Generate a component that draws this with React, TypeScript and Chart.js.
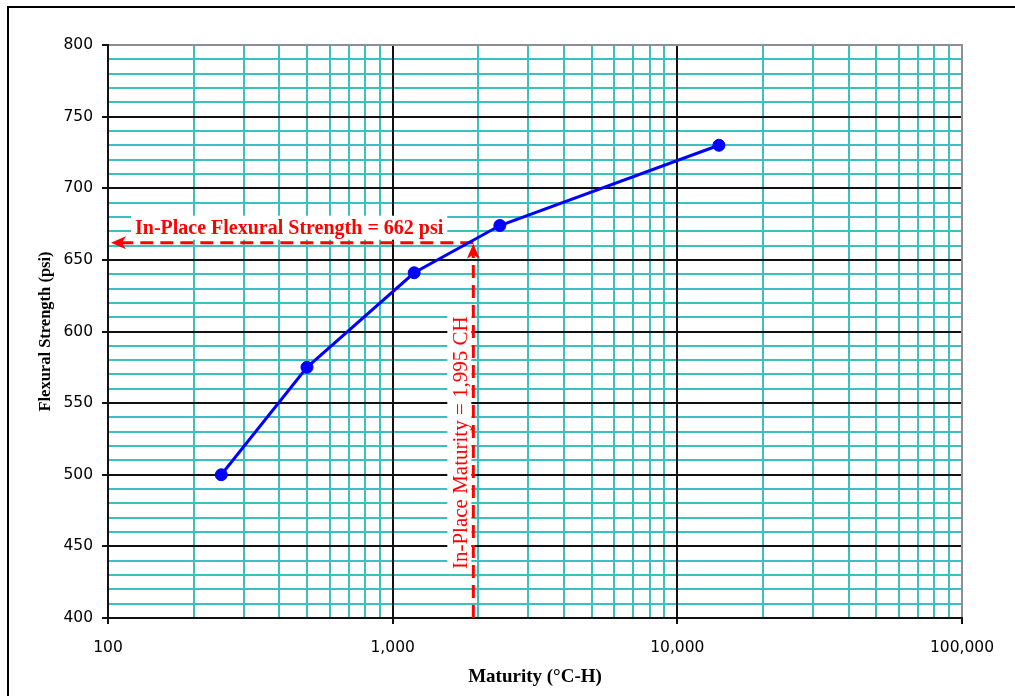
import React, { useEffect, useRef } from 'react';
import { Chart, registerables } from 'chart.js';

Chart.register(...registerables);

// ---- data ----
const maturity = [250, 500, 1190, 2380, 14000];
const strength = [500, 575, 641, 674, 730];

const xDecades = [100, 1000, 10000, 100000];
const xMultipliers = [1, 2, 3, 4, 5, 6, 7, 8, 9];
const xMin = 100;
const xMax = 100000;

const yMin = 400;
const yMax = 800;
const yMinorStep = 10;
const yMajorStep = 50;

const markStrength = 662;
const markMaturity = 1920;
const strengthLabel = 'In-Place Flexural Strength = 662 psi';
const maturityLabel = 'In-Place Maturity = 1,995 CH';
const xTitle = 'Maturity (°C-H)';
const yTitle = 'Flexural Strength (psi)';

// ---- styles ----
const CYAN = '#3bc0c0';
const BLACK = '#111111';
const GRAY = '#8f8f8f';
const RED = '#ff0000';
const BLUE = '#0000ff';
const TICK_FONT = { family: 'DejaVu Sans', size: 15.5 };
const SERIF = 'Liberation Serif';

const xTickValues: number[] = [];
xDecades.forEach((d, i) => {
  if (i === xDecades.length - 1) xTickValues.push(d);
  else xMultipliers.forEach((m) => xTickValues.push(d * m));
});

const align = (p: number, w: number) => Math.round(p - w / 2) + w / 2;

const overlayPlugin = {
  id: 'overlay',
  beforeDatasetsDraw(chart: any) {
    const { ctx, chartArea: ca } = chart;
    const xs = chart.scales.x;
    const ys = chart.scales.y;
    ctx.save();
    // major grid lines on top of minor ones
    ctx.lineWidth = 2;
    ctx.strokeStyle = BLACK;
    xDecades.forEach((v) => {
      if (v === xMin || v === xMax) return;
      const px = align(xs.getPixelForValue(v), 2);
      ctx.beginPath();
      ctx.moveTo(px, ca.top);
      ctx.lineTo(px, ca.bottom);
      ctx.stroke();
    });
    for (let v = yMin + yMajorStep; v < yMax; v += yMajorStep) {
      const py = align(ys.getPixelForValue(v), 2);
      ctx.beginPath();
      ctx.moveTo(ca.left, py);
      ctx.lineTo(ca.right, py);
      ctx.stroke();
    }
    // plot frame
    const L = align(ca.left, 2), R = align(ca.right, 2), T = align(ca.top, 2), B = align(ca.bottom, 2);
    ctx.strokeStyle = GRAY;
    ctx.beginPath();
    ctx.moveTo(L, T);
    ctx.lineTo(R, T);
    ctx.lineTo(R, B);
    ctx.stroke();
    ctx.strokeStyle = BLACK;
    ctx.beginPath();
    ctx.moveTo(L, T - 1);
    ctx.lineTo(L, B);
    ctx.lineTo(R + 1, B);
    ctx.stroke();

    // annotation lines
    const yPix = ys.getPixelForValue(markStrength);
    const xPix = xs.getPixelForValue(markMaturity);
    ctx.strokeStyle = RED;
    ctx.lineWidth = 3;
    ctx.setLineDash([13, 7]);
    ctx.beginPath();
    ctx.moveTo(xPix, yPix);
    ctx.lineTo(ca.left + 12, yPix);
    ctx.stroke();
    ctx.beginPath();
    ctx.moveTo(xPix, ca.bottom);
    ctx.lineTo(xPix, yPix + 12);
    ctx.stroke();
    ctx.setLineDash([]);
    ctx.fillStyle = RED;
    // left arrowhead
    const tx = ca.left + 3;
    ctx.beginPath();
    ctx.moveTo(tx, yPix);
    ctx.lineTo(tx + 15, yPix - 6.5);
    ctx.lineTo(tx + 11, yPix);
    ctx.lineTo(tx + 15, yPix + 6.5);
    ctx.closePath();
    ctx.fill();
    // up arrowhead
    const ty = yPix + 1;
    ctx.beginPath();
    ctx.moveTo(xPix, ty);
    ctx.lineTo(xPix - 6.5, ty + 15);
    ctx.lineTo(xPix, ty + 11);
    ctx.lineTo(xPix + 6.5, ty + 15);
    ctx.closePath();
    ctx.fill();

    // horizontal label
    ctx.font = `bold 20px "${SERIF}"`;
    const w1 = ctx.measureText(strengthLabel).width;
    const lx = ca.left + 27;
    const by = yPix - 8.5;
    ctx.fillStyle = '#ffffff';
    ctx.fillRect(lx - 4, by - 18.5, w1 + 8, 24);
    ctx.fillStyle = RED;
    ctx.textAlign = 'left';
    ctx.textBaseline = 'alphabetic';
    ctx.fillText(strengthLabel, lx, by);

    // vertical label
    ctx.font = `21px "${SERIF}"`;
    const w2 = ctx.measureText(maturityLabel).width;
    ctx.translate(xPix - 6, yPix + 200);
    ctx.rotate(-Math.PI / 2);
    ctx.fillStyle = '#ffffff';
    ctx.fillRect(-w2 / 2 - 5, -20, w2 + 10, 24);
    ctx.fillStyle = RED;
    ctx.textAlign = 'center';
    ctx.fillText(maturityLabel, 0, 0);
    ctx.restore();
  },
};

export default function App() {
  const canvasRef = useRef<HTMLCanvasElement | null>(null);

  useEffect(() => {
    if (!canvasRef.current) return;
    const chart = new Chart(canvasRef.current, {
      type: 'line',
      data: {
        datasets: [
          {
            label: 'Flexural Strength',
            data: maturity.map((m, i) => ({ x: m, y: strength[i] })),
            borderColor: BLUE,
            backgroundColor: BLUE,
            borderWidth: 3,
            pointRadius: 6,
            pointBackgroundColor: BLUE,
            pointBorderColor: BLUE,
            pointBorderWidth: 1,
            tension: 0,
            fill: false,
          },
        ],
      },
      options: {
        animation: false,
        responsive: false,
        layout: { padding: { left: 0, top: 45, right: 53, bottom: 0 } },
        plugins: {
          legend: { display: false },
          tooltip: { enabled: false },
        },
        scales: {
          x: {
            type: 'logarithmic',
            min: xMin,
            max: xMax,
            afterBuildTicks: (s: any) => {
              s.ticks = xTickValues.map((v) => ({ value: v, major: xDecades.includes(v) }));
            },
            afterFit: (s: any) => {
              s.height = 78;
            },
            ticks: {
              autoSkip: false,
              maxRotation: 0,
              minRotation: 0,
              padding: 15,
              color: '#000',
              font: TICK_FONT,
              callback: (v: any) => (xDecades.includes(Number(v)) ? Number(v).toLocaleString('en-US') : ''),
            },
            grid: {
              color: (c: any) => {
                const v = c.tick ? c.tick.value : 0;
                if (v === xMax) return GRAY;
                return xDecades.includes(v) ? BLACK : CYAN;
              },
              lineWidth: 2,
              tickLength: 6,
              tickWidth: 2,
              tickColor: (c: any) => (c.tick && xDecades.includes(c.tick.value) ? BLACK : 'rgba(0,0,0,0)'),
            },
            border: { display: true, color: BLACK, width: 2 },
            title: {
              display: true,
              text: xTitle,
              color: '#000',
              font: { family: SERIF, size: 19, weight: 'bold' },
              padding: { top: 0, bottom: 8 },
            },
          },
          y: {
            type: 'linear',
            min: yMin,
            max: yMax,
            afterFit: (s: any) => {
              s.width = 108;
            },
            ticks: {
              stepSize: yMinorStep,
              autoSkip: false,
              padding: 9,
              color: '#000',
              font: TICK_FONT,
              callback: (v: any) => (Number(v) % yMajorStep === 0 ? String(v) : ''),
            },
            grid: {
              color: (c: any) => {
                const v = c.tick ? c.tick.value : 0;
                if (v === yMax) return GRAY;
                return v % yMajorStep === 0 ? BLACK : CYAN;
              },
              lineWidth: 2,
              tickLength: 6,
              tickWidth: 2,
              tickColor: (c: any) => (c.tick && c.tick.value % yMajorStep === 0 ? BLACK : 'rgba(0,0,0,0)'),
            },
            border: { display: true, color: BLACK, width: 2 },
            title: {
              display: true,
              text: yTitle,
              color: '#000',
              font: { family: SERIF, size: 16.5, weight: 'bold' },
              padding: { top: 36, bottom: 0 },
            },
          },
        },
      },
      plugins: [overlayPlugin],
    } as any);
    return () => chart.destroy();
  }, []);

  return (
    <div
      style={{
        position: 'absolute',
        left: 0,
        top: 0,
        width: 1015,
        height: 696,
        overflow: 'hidden',
        background: '#ffffff',
      }}
    >
      <div
        style={{
          position: 'absolute',
          left: 7,
          top: 6,
          width: 1100,
          height: 800,
          border: '2px solid #000',
          boxSizing: 'border-box',
        }}
      />
      <canvas
        ref={canvasRef}
        width={1015}
        height={696}
        style={{ position: 'absolute', left: 0, top: 0, width: 1015, height: 696 }}
      />
    </div>
  );
}
